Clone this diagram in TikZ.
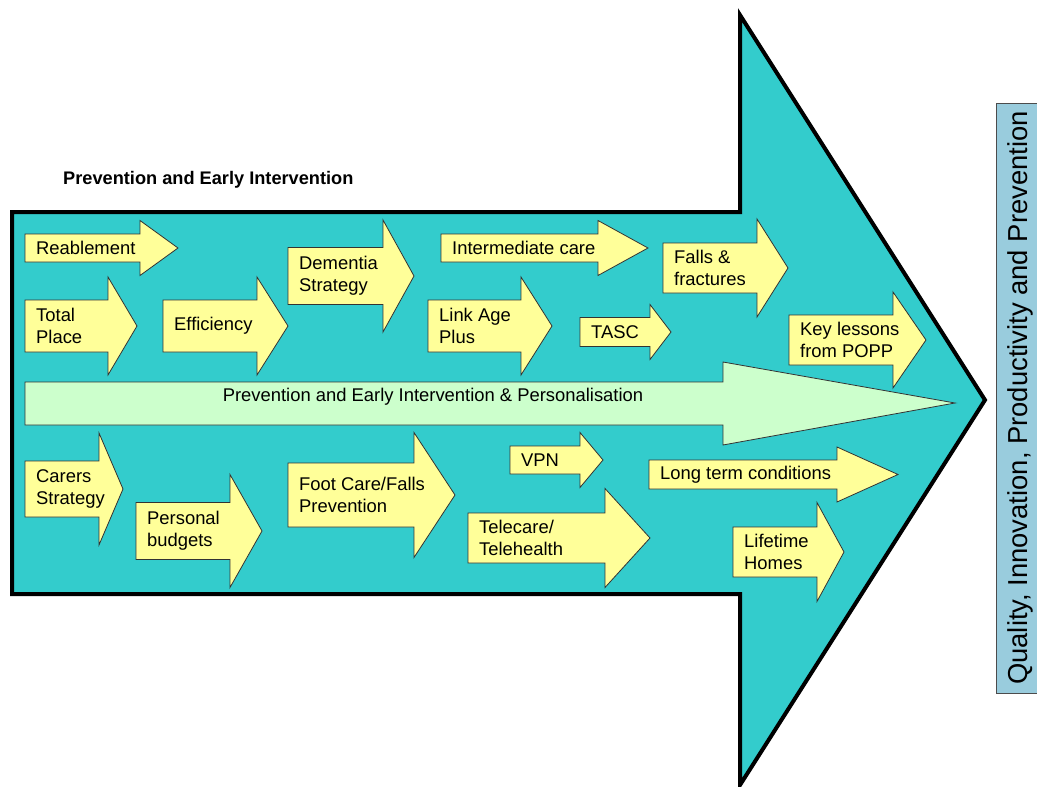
\documentclass[tikz,border=0pt]{standalone}
\usepackage{fontspec}
\setmainfont{Liberation Sans}
\usepackage{tikz}
\usetikzlibrary{positioning}

\definecolor{arrowteal}{RGB}{51,204,204}
\definecolor{paleyellow}{RGB}{255,255,153}
\definecolor{palegreen}{RGB}{204,255,204}
\definecolor{qippblue}{RGB}{153,204,221}

\tikzset{
  ylw/.style={draw=black!80, fill=paleyellow, line width=0.8pt, line join=miter},
  lbl/.style={anchor=west, align=left, inner sep=0pt, font=\fontsize{18.4}{22}\selectfont},
}

% yellow arrow: name, left, head back, tip, mid y, shaft half, head half, text
\newcommand{\ylwarrow}[8]{%
  \draw[ylw] (#2,#5-#6) -- (#3,#5-#6) -- (#3,#5-#7) -- (#4,#5)
    -- (#3,#5+#7) -- (#3,#5+#6) -- (#2,#5+#6) -- cycle;
  \node[lbl] (#1) at (#2+11,#5) {#8};
}

\begin{document}
\begin{tikzpicture}[x=1pt,y=-1pt]
  \useasboundingbox (0,0) rectangle (1037,787);
  % big arrow
  \draw[line width=4pt, fill=arrowteal, line join=miter]
    (12,212) -- (740,212) -- (740,15) -- (985,400) -- (740,785)
    -- (740,594) -- (12,594) -- cycle;
  \node[anchor=west, inner sep=0pt, font=\bfseries\fontsize{18.2}{22}\selectfont]
    (title) at (63,180) {Prevention and Early Intervention};
  % green arrow
  \draw[draw=black!80, fill=palegreen, line width=0.8pt]
    (25,382) -- (723,382) -- (723,362) -- (955,403) -- (723,445)
    -- (723,425) -- (25,425) -- cycle;
  \node[font=\fontsize{18.4}{22}\selectfont, inner sep=0pt] (pei) at (433,397)
    {Prevention and Early Intervention \& Personalisation};
  % top row
  \ylwarrow{reable}{25}{140}{178}{248}{14}{27.5}{Reablement}
  \ylwarrow{totalplace}{25}{108}{137}{326}{26}{49}{Total\\Place}
  \ylwarrow{effic}{163}{257}{288}{326}{26}{49}{Efficiency}
  \ylwarrow{dementia}{288}{383}{414}{276}{28.5}{56}{Dementia\\Strategy}
  \ylwarrow{intermed}{441}{598}{648}{248}{14}{27.5}{Intermediate care}
  \ylwarrow{linkage}{428}{521}{552}{326}{26}{49}{Link Age\\Plus}
  \ylwarrow{tasc}{580}{650}{671}{332}{14.5}{27.5}{TASC}
  \ylwarrow{falls}{663}{757}{788}{268}{25}{49}{Falls \&\\fractures}
  \ylwarrow{keyless}{789}{893}{926}{340}{25}{48}{Key lessons\\from POPP}
  % bottom row
  \ylwarrow{carers}{25}{99}{123}{489}{28}{56}{Carers\\Strategy}
  \ylwarrow{personal}{136}{230}{262}{531}{28.5}{56.5}{Personal\\budgets}
  \ylwarrow{footcare}{288}{414}{455}{495}{32}{62.5}{Foot Care/Falls\\Prevention}
  \ylwarrow{vpn}{510}{580}{603}{460}{14}{27.5}{VPN}
  \ylwarrow{longterm}{649}{837}{898}{474.5}{14.5}{27.5}{Long term conditions}
  \ylwarrow{telecare}{468}{605}{650}{538}{25}{49.5}{Telecare/\\Telehealth}
  \ylwarrow{lifetime}{733}{817}{844}{552}{25}{49.5}{Lifetime\\Homes}
  % side box
  \node[draw=black!70, fill=qippblue, line width=0.8pt, rotate=90,
        minimum width=590pt, minimum height=48pt, inner sep=0pt,
        font=\fontsize{27.4}{32}\selectfont] (qipp) at (1020,398)
    {Quality, Innovation, Productivity and Prevention};
\end{tikzpicture}
\end{document}
